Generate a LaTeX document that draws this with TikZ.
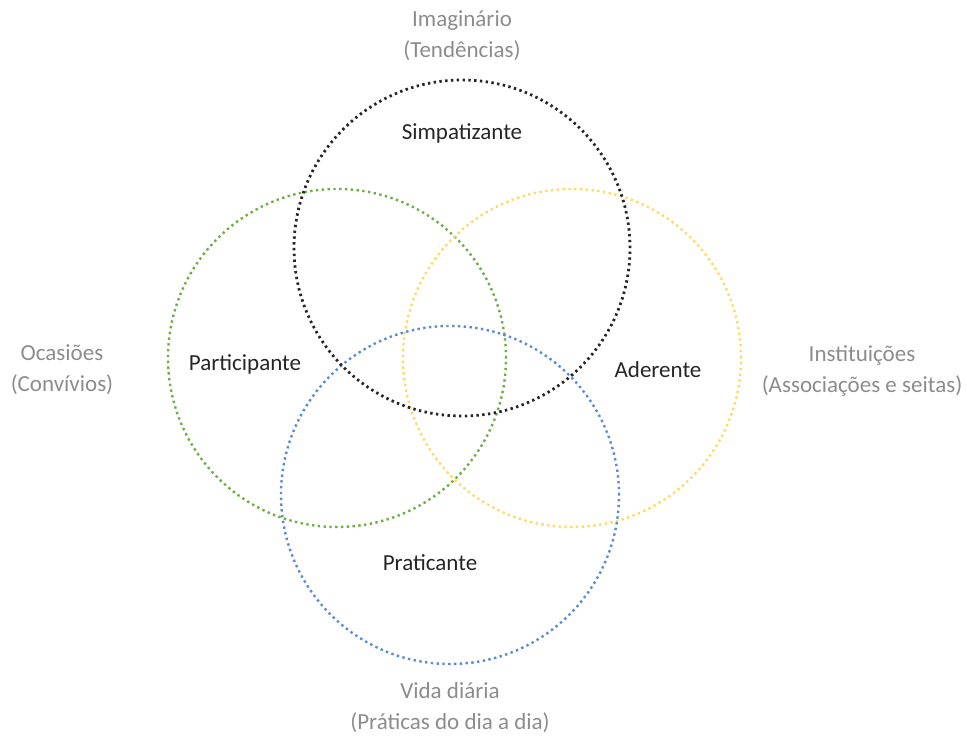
\documentclass[tikz,border=0pt]{standalone}
\usepackage{fontspec}
\setmainfont{Carlito}
\begin{document}
\begin{tikzpicture}[x=1pt,y=-1pt,
  ring/.style={line width=2.4pt, dash pattern=on 2.4pt off 3.4pt},
  lbl/.style={font=\fontsize{23}{26}\selectfont, text=black!85},
  ext/.style={font=\fontsize{23}{31}\selectfont, text=black!45, align=center}]
\useasboundingbox (0,0) rectangle (967,744);
\definecolor{vgreen}{HTML}{70AD47}
\definecolor{vyellow}{HTML}{FFD966}
\definecolor{vblue}{HTML}{5B8BD6}
\node[circle, minimum size=338pt, inner sep=0pt, ring, draw=vgreen] (green) at (337,358) {};
\node[circle, minimum size=338pt, inner sep=0pt, ring, draw=vyellow] (yellow) at (572,358) {};
\node[circle, minimum size=338pt, inner sep=0pt, ring, draw=vblue] (blue) at (450,495) {};
\node[circle, minimum size=336pt, inner sep=0pt, ring, line width=2.8pt, draw=black!85] (black) at (462,248) {};
\node[lbl] (simp) at (462,133) {Simpatizante};
\node[lbl] (part) at (245,364) {Participante};
\node[lbl] (ader) at (658,370) {Aderente};
\node[lbl] (prat) at (430,563) {Praticante};
\node[ext] (imag) at (462,36) {Imaginário\\(Tendências)};
\node[ext] (ocas) at (62,370) {Ocasiões\\(Convívios)};
\node[ext] (inst) at (862,371) {Instituições\\(Associações e seitas)};
\node[ext] (vida) at (450,708) {Vida diária\\(Práticas do dia a dia)};
\end{tikzpicture}
\end{document}
